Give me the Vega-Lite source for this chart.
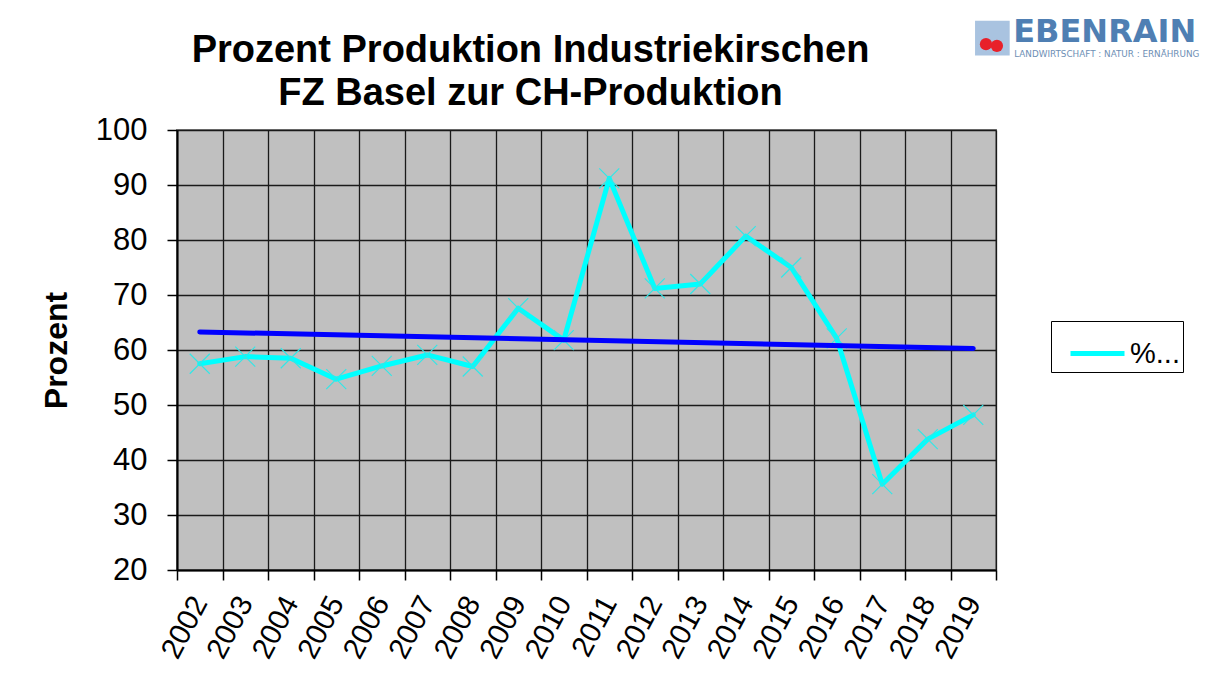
{
  "$schema": "https://vega.github.io/schema/vega-lite/v6.json",
  "width": 819,
  "height": 440,
  "autosize": {"type": "none"},
  "padding": {"left": 177, "top": 130, "right": 210, "bottom": 113},
  "background": "white",
  "title": {
    "text": ["Prozent Produktion Industriekirschen", "FZ Basel zur CH-Produktion"],
    "font": "Liberation Sans",
    "fontSize": 38,
    "fontWeight": "bold",
    "color": "black",
    "anchor": "middle",
    "frame": "group",
    "dx": -56,
    "offset": -97,
    "lineHeight": 43
  },
  "config": {
    "view": {"fill": "#C0C0C0", "stroke": "#808080", "strokeWidth": 2},
    "axis": {
      "labelFont": "Liberation Sans",
      "labelColor": "black",
      "titleFont": "Liberation Sans",
      "titleColor": "black",
      "domainColor": "black",
      "domainWidth": 2,
      "tickColor": "black",
      "tickWidth": 1.5,
      "tickSize": 10,
      "gridColor": "#1a1a1a",
      "gridWidth": 1.3,
      "gridOpacity": 1
    }
  },
  "data": {
    "values": [
      {"year": 2002, "value": 57.5, "serie": "%..."},
      {"year": 2003, "value": 58.8, "serie": "%..."},
      {"year": 2004, "value": 58.5, "serie": "%..."},
      {"year": 2005, "value": 54.7, "serie": "%..."},
      {"year": 2006, "value": 57.1, "serie": "%..."},
      {"year": 2007, "value": 59.1, "serie": "%..."},
      {"year": 2008, "value": 57.0, "serie": "%..."},
      {"year": 2009, "value": 67.6, "serie": "%..."},
      {"year": 2010, "value": 61.8, "serie": "%..."},
      {"year": 2011, "value": 91.2, "serie": "%..."},
      {"year": 2012, "value": 71.2, "serie": "%..."},
      {"year": 2013, "value": 72.0, "serie": "%..."},
      {"year": 2014, "value": 80.7, "serie": "%..."},
      {"year": 2015, "value": 75.0, "serie": "%..."},
      {"year": 2016, "value": 62.1, "serie": "%..."},
      {"year": 2017, "value": 35.6, "serie": "%..."},
      {"year": 2018, "value": 43.8, "serie": "%..."},
      {"year": 2019, "value": 48.2, "serie": "%..."}
    ]
  },
  "encoding": {
    "x": {
      "field": "year",
      "type": "ordinal",
      "scale": {"type": "band", "paddingInner": 0, "paddingOuter": 0},
      "axis": {
        "title": null,
        "tickBand": "extent",
        "grid": true,
        "labelAngle": -62,
        "labelAlign": "right",
        "labelBaseline": "middle",
        "labelFontSize": 29.5,
        "labelPadding": 18
      }
    },
    "y": {
      "field": "value",
      "type": "quantitative",
      "scale": {"domain": [20, 100], "nice": false, "zero": false},
      "axis": {
        "title": "Prozent",
        "titleFontSize": 32,
        "titleFontWeight": "bold",
        "titlePadding": 22,
        "values": [20, 30, 40, 50, 60, 70, 80, 90, 100],
        "labelFontSize": 31,
        "labelPadding": 20,
        "grid": true
      }
    }
  },
  "layer": [
    {
      "mark": {"type": "line", "strokeWidth": 5, "strokeJoin": "round", "strokeCap": "round"},
      "encoding": {
        "color": {
          "field": "serie",
          "type": "nominal",
          "scale": {"range": ["#00FFFF"]},
          "legend": {
            "title": null,
            "orient": "none",
            "legendX": 874,
            "legendY": 191,
            "strokeColor": "black",
            "fillColor": "white",
            "padding": 3,
            "symbolOffset": 14,
            "symbolType": "stroke",
            "symbolStrokeWidth": 5,
            "symbolSize": 2916,
            "labelFont": "Liberation Sans",
            "labelFontSize": 29,
            "labelColor": "black",
            "labelOffset": 3
          }
        }
      }
    },
    {
      "mark": {
        "type": "point",
        "shape": "M-1,-1L1,1M-1,1L1,-1",
        "size": 400,
        "filled": false,
        "stroke": "#33E6E6",
        "strokeWidth": 1.2,
        "opacity": 1
      }
    },
    {
      "transform": [{"regression": "value", "on": "year", "extent": [2002, 2019]}],
      "mark": {"type": "line", "color": "#0000FF", "strokeWidth": 5, "strokeCap": "round"},
      "encoding": {
        "x": {"field": "year", "type": "ordinal"},
        "y": {"field": "value", "type": "quantitative"}
      }
    },
    {
      "data": {"values": [{"part": "icon", "h": 116.7}]},
      "mark": {"type": "point", "shape": "square", "filled": true, "color": "#A9C3E0", "size": 1200, "opacity": 1},
      "encoding": {"x": {"datum": 2019, "bandPosition": 0.92}, "y": {"field": "h", "type": "quantitative"}}
    },
    {
      "data": {"values": [{"part": "cherry", "h": 115.6}]},
      "mark": {"type": "point", "shape": "circle", "filled": true, "color": "#E8202A", "size": 150, "opacity": 1},
      "encoding": {"x": {"datum": 2019, "bandPosition": 0.78}, "y": {"field": "h", "type": "quantitative"}}
    },
    {
      "data": {"values": [{"part": "cherry", "h": 115.3}]},
      "mark": {"type": "point", "shape": "circle", "filled": true, "color": "#E8202A", "size": 150, "opacity": 1},
      "encoding": {"x": {"datum": 2019, "bandPosition": 1.02}, "y": {"field": "h", "type": "quantitative"}}
    },
    {
      "data": {"values": [{"t": "EBENRAIN", "h": 116}]},
      "mark": {"type": "text", "font": "DejaVu Sans", "fontWeight": "bold", "fontSize": 32, "color": "#4F7FB3", "align": "left", "baseline": "alphabetic", "dx": 40},
      "encoding": {"x": {"datum": 2019}, "y": {"field": "h", "type": "quantitative"}, "text": {"field": "t"}}
    },
    {
      "data": {"values": [{"t": "LANDWIRTSCHAFT : NATUR : ERNÄHRUNG", "h": 113.2}]},
      "mark": {"type": "text", "font": "DejaVu Sans", "fontSize": 8.8, "color": "#6E8FB5", "align": "left", "baseline": "alphabetic", "dx": 41},
      "encoding": {"x": {"datum": 2019}, "y": {"field": "h", "type": "quantitative"}, "text": {"field": "t"}}
    }
  ]
}
